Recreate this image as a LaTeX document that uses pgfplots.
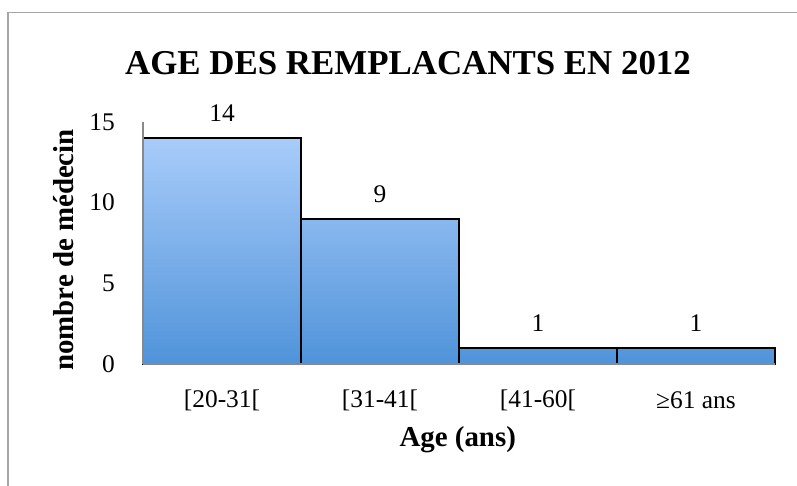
\documentclass[border=0pt]{standalone}
\usepackage{fontspec}
\setmainfont{Liberation Serif}
\usepackage{pgfplots}
\pgfplotsset{compat=1.18}
\definecolor{bartop}{RGB}{168,204,250}
\definecolor{barbot}{RGB}{80,147,218}
\definecolor{framegray}{RGB}{165,165,165}
\definecolor{axgray}{RGB}{137,137,137}
\begin{document}
\begin{tikzpicture}
\useasboundingbox (0bp,0bp) rectangle (797bp,486bp);
\draw[framegray, line width=1.5bp] (8bp,-2bp) -- (8bp,473.5bp) -- (799bp,473.5bp);
\node[font=\fontsize{35}{40}\selectfont\bfseries, anchor=base] at (408bp,411bp) {AGE DES REMPLACANTS EN 2012};
\begin{axis}[
  at={(143bp,122bp)}, anchor=south west,
  scale only axis, width=632bp, height=242bp,
  xmin=-0.5, xmax=3.5, ymin=0, ymax=15,
  ytick={0,5,10,15},
  xtick={0,1,2,3},
  xticklabels={{[20-31[},{[31-41[},{[41-60[},{≥61 ans}},
  axis x line=bottom, axis y line=left,
  axis line style={axgray, line width=1.5bp, -},
  major tick length=0pt,
  axis on top,
  /pgf/number format/assume math mode=true,
  tick label style={font=\fontsize{25.5}{30}\selectfont, inner sep=0pt},
  yticklabel style={anchor=east, xshift=-28bp},
  xticklabel style={anchor=center, yshift=-36bp},
  xlabel={Age (ans)},
  ylabel={nombre de médecin},
  label style={font=\fontsize{29}{34}\selectfont\bfseries},
  xlabel style={at={(axis description cs:0.498,-0.314)}, anchor=center},
  ylabel style={at={(axis description cs:-0.125,0.471)}, anchor=center},
  clip=false,
]
\addplot[ybar, bar width=1, draw=black, line width=1.5bp,
  top color=bartop, bottom color=barbot,
  nodes near coords,
  nodes near coords style={font=\fontsize{25.5}{30}\selectfont, anchor=center, yshift=25bp, text=black},
] coordinates {(0,14) (1,9) (2,1) (3,1)};
\end{axis}
\end{tikzpicture}
\end{document}
